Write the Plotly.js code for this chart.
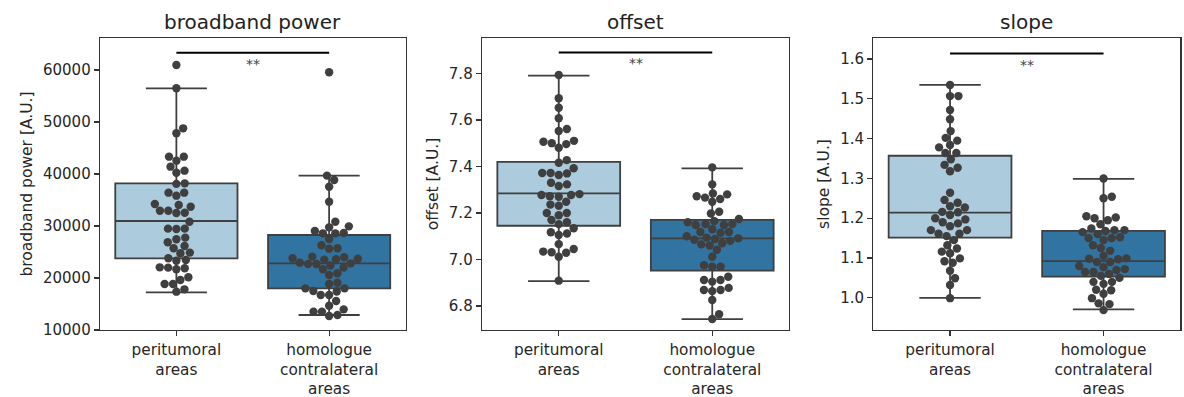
<!DOCTYPE html>
<html>
<head>
<meta charset="utf-8">
<script src="https://cdn.plot.ly/plotly-3.0.1.min.js"></script>
<style>html,body{margin:0;padding:0;background:#fff;} #chart{width:1184px;height:397px;}</style>
</head>
<body>
<div id="chart"></div>
<script>
// ---------- data ----------
const categories = ['peritumoral<br>areas', 'homologue<br>contralateral<br>areas'];
const panelTitles = ['broadband power', 'offset', 'slope'];
const yTitles = ['broadband power [A.U.]', 'offset [A.U.]', 'slope [A.U.]'];

const bp_peri = [60960, 56480, 48780, 47820, 43330, 43330, 42560, 41410, 40640, 40250, 38200, 38100, 36410, 36410, 35830, 34230, 33710, 34040, 32560, 32940, 32940, 32490, 30830, 29490, 29490, 29430, 27440, 27760, 26150, 26860, 25710, 24750, 24880, 23790, 23460, 23330, 21860, 21670, 21990, 22050, 20130, 19620, 18850, 18850, 17820, 17370];
const bp_homo = [59550, 39680, 38850, 37560, 34680, 30830, 29740, 29930, 29040, 28590, 28650, 28590, 27500, 26300, 25710, 25640, 24100, 24000, 23790, 23700, 22950, 22700, 22820, 21990, 21670, 22700, 23500, 23600, 22400, 20900, 20580, 19100, 18860, 18010, 18010, 17500, 17400, 16730, 16730, 15580, 14680, 13970, 13530, 13530, 12880, 12690];

const off_peri = [7.793, 7.693, 7.652, 7.607, 7.561, 7.552, 7.510, 7.496, 7.500, 7.506, 7.480, 7.427, 7.416, 7.392, 7.370, 7.363, 7.372, 7.372, 7.316, 7.323, 7.330, 7.281, 7.270, 7.277, 7.272, 7.277, 7.248, 7.231, 7.236, 7.190, 7.200, 7.200, 7.170, 7.160, 7.152, 7.134, 7.112, 7.105, 7.117, 7.066, 7.045, 7.029, 7.012, 7.031, 7.034, 6.909];
const off_homo = [7.396, 7.323, 7.284, 7.260, 7.248, 7.266, 7.272, 7.280, 7.205, 7.198, 7.174, 7.160, 7.152, 7.148, 7.165, 7.152, 7.148, 7.130, 7.115, 7.118, 7.118, 7.094, 7.091, 7.088, 7.100, 7.080, 7.085, 7.065, 7.060, 7.070, 7.042, 7.012, 6.969, 6.975, 6.969, 6.926, 6.912, 6.905, 6.912, 6.869, 6.864, 6.869, 6.878, 6.826, 6.765, 6.744];

const slope_peri = [1.535, 1.507, 1.507, 1.472, 1.449, 1.419, 1.402, 1.395, 1.384, 1.378, 1.364, 1.364, 1.348, 1.334, 1.327, 1.318, 1.264, 1.246, 1.239, 1.230, 1.227, 1.215, 1.208, 1.216, 1.197, 1.200, 1.190, 1.187, 1.180, 1.170, 1.170, 1.161, 1.161, 1.155, 1.145, 1.132, 1.124, 1.116, 1.112, 1.099, 1.092, 1.088, 1.068, 1.049, 1.032, 0.999];
const slope_homo = [1.300, 1.254, 1.250, 1.202, 1.195, 1.200, 1.205, 1.185, 1.174, 1.168, 1.170, 1.170, 1.165, 1.160, 1.152, 1.145, 1.150, 1.150, 1.132, 1.125, 1.118, 1.105, 1.099, 1.097, 1.090, 1.098, 1.090, 1.080, 1.077, 1.070, 1.065, 1.072, 1.065, 1.055, 1.060, 1.050, 1.040, 1.035, 1.040, 1.019, 1.020, 1.010, 0.999, 0.984, 0.986, 0.969];

// box statistics [peritumoral, homologue]
const bp_q1 = [23780, 18010], bp_med = [30960, 22820], bp_q3 = [38200, 28270], bp_lo = [17240, 12880], bp_hi = [56480, 39680];
const off_q1 = [7.145, 6.952], off_med = [7.284, 7.091], off_q3 = [7.420, 7.170], off_lo = [6.907, 6.744], off_hi = [7.790, 7.392];
const slope_q1 = [1.151, 1.053], slope_med = [1.214, 1.092], slope_q3 = [1.357, 1.168], slope_lo = [1.000, 0.971], slope_hi = [1.535, 1.299];

// significance bars
const sigLevel = [63330, 7.890, 1.614];
const sigText = ['**', '**', '**'];

// y tick values
const bp_ticks = [10000, 20000, 30000, 40000, 50000, 60000];
const off_ticks = [6.8, 7.0, 7.2, 7.4, 7.6, 7.8];
const slope_ticks = [1.0, 1.1, 1.2, 1.3, 1.4, 1.5, 1.6];

// ---------- layout geometry ----------
const W = 1184, H = 397;
const plotTop = 38, plotBottom = 330;
const xPix = [[100, 405.5], [482, 789], [873.3, 1180.3]];
const yRanges = [[10000, 66150], [6.697, 7.952], [0.919, 1.653]];
const colors = ['#accbdd', '#3274a1'];
const dark = '#3f3f3f';
const FONT = 'DejaVu Sans, sans-serif';

function swarm(vals, pxPerY, d) {
  const idx = vals.map((v, i) => i).sort((a, b) => vals[a] - vals[b]);
  const placed = [];
  const off = new Array(vals.length).fill(0);
  idx.forEach(i => {
    const y = vals[i] * pxPerY;
    const cands = [0];
    placed.forEach(p => {
      const dy = Math.abs(p.y - y);
      if (dy < d) {
        const dx = Math.sqrt(d * d - dy * dy);
        cands.push(p.x + dx, p.x - dx);
      }
    });
    cands.sort((a, b) => Math.abs(a) - Math.abs(b));
    let chosen = 0;
    for (const c of cands) {
      let ok = true;
      for (const p of placed) {
        const dx = p.x - c, dy = p.y - y;
        if (dx * dx + dy * dy < d * d - 1e-6) { ok = false; break; }
      }
      if (ok) { chosen = c; break; }
    }
    placed.push({x: chosen, y: y});
    off[i] = chosen;
  });
  return off;
}

const groups = [[bp_peri, bp_homo], [off_peri, off_homo], [slope_peri, slope_homo]];
const stats = [
  [bp_q1, bp_med, bp_q3, bp_lo, bp_hi],
  [off_q1, off_med, off_q3, off_lo, off_hi],
  [slope_q1, slope_med, slope_q3, slope_lo, slope_hi]
];
const tickSets = [bp_ticks, off_ticks, slope_ticks];

const traces = [];
const layout = {
  width: W, height: H,
  margin: {l: 0, r: 0, t: 0, b: 0},
  paper_bgcolor: '#fff', plot_bgcolor: '#fff',
  showlegend: false,
  font: {family: FONT, color: '#262626'},
  annotations: []
};

for (let p = 0; p < 3; p++) {
  const sfx = p === 0 ? '' : String(p + 1);
  const xa = 'x' + sfx, ya = 'y' + sfx;
  const pxPerX = (xPix[p][1] - xPix[p][0]) / 2;
  const pxPerY = (plotBottom - plotTop) / (yRanges[p][1] - yRanges[p][0]);
  const s = stats[p];
  for (let c = 0; c < 2; c++) {
    traces.push({
      type: 'box', xaxis: xa, yaxis: ya,
      x: [c], q1: [s[0][c]], median: [s[1][c]], q3: [s[2][c]],
      lowerfence: [s[3][c]], upperfence: [s[4][c]],
      width: 0.8, whiskerwidth: 0.5,
      fillcolor: colors[c], line: {color: dark, width: 1.8},
      boxpoints: false, hoverinfo: 'skip'
    });
  }
  for (let c = 0; c < 2; c++) {
    const vals = groups[p][c];
    const off = swarm(vals, pxPerY, 8.4);
    traces.push({
      type: 'scatter', mode: 'markers', xaxis: xa, yaxis: ya,
      x: off.map(o => c + o / pxPerX), y: vals,
      marker: {color: dark, size: 8.4, line: {width: 0}},
      hoverinfo: 'skip'
    });
  }
  traces.push({
    type: 'scatter', mode: 'lines', xaxis: xa, yaxis: ya,
    x: [0, 1], y: [sigLevel[p], sigLevel[p]],
    line: {color: '#000', width: 2}, hoverinfo: 'skip'
  });
  const dom = [xPix[p][0] / W, xPix[p][1] / W];
  layout['xaxis' + sfx] = {
    domain: dom, range: [-0.5, 1.5], anchor: ya,
    tickmode: 'array', tickvals: [0, 1], ticktext: categories,
    ticks: 'outside', ticklen: 5, tickwidth: 1.2, tickcolor: '#333',
    showline: true, mirror: true, linecolor: '#333', linewidth: 1.3,
    showgrid: false, zeroline: false,
    tickfont: {family: FONT, size: 15.3, color: '#262626'}
  };
  layout['yaxis' + sfx] = {
    domain: [1 - plotBottom / H, 1 - plotTop / H], range: yRanges[p], anchor: xa,
    tickmode: 'array', tickvals: tickSets[p],
    tickformat: p === 0 ? 'd' : '.1f',
    ticks: 'outside', ticklen: 5, tickwidth: 1.2, tickcolor: '#333',
    showline: true, mirror: true, linecolor: '#333', linewidth: 1.3,
    showgrid: false, zeroline: false,
    tickfont: {family: FONT, size: 15, color: '#262626'},
    title: {text: yTitles[p], standoff: 6, font: {family: FONT, size: 15.5, color: '#262626'}}
  };
  layout.annotations.push({
    xref: xa, yref: ya, x: 0.5, y: sigLevel[p], text: sigText[p],
    showarrow: false, yanchor: 'top', yshift: -1,
    font: {family: FONT, size: 14, color: '#444'}
  });
  layout.annotations.push({
    xref: 'paper', yref: 'paper', x: (dom[0] + dom[1]) / 2, y: 1 - 22 / H,
    text: panelTitles[p], showarrow: false, xanchor: 'center', yanchor: 'middle',
    font: {family: FONT, size: 20, color: '#222'}
  });
}

Plotly.newPlot('chart', traces, layout, {staticPlot: true, displayModeBar: false});
</script>
</body>
</html>
